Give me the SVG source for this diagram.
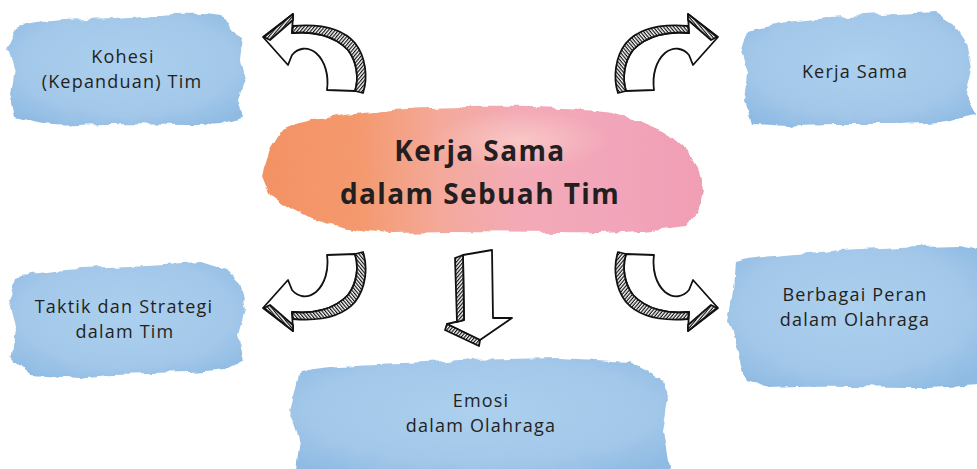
<svg xmlns="http://www.w3.org/2000/svg" xmlns:xlink="http://www.w3.org/1999/xlink" width="977" height="469" viewBox="0 0 977 469">
<style>
.lbl{font-family:"Open Sans","Noto Sans","Liberation Sans",sans-serif;font-size:18px;fill:#231f20;text-anchor:middle;letter-spacing:1.2px}
.title{font-family:"Open Sans","Noto Sans","Liberation Sans",sans-serif;font-size:28px;font-weight:bold;fill:#231f20;text-anchor:middle;letter-spacing:1.4px}
.blue{fill:url(#blueG);filter:url(#rough)}
.ol{stroke:#111;stroke-width:1.8;stroke-linejoin:round;stroke-linecap:round}
.face{fill:#fff}
.hat{fill:url(#hatch)}
</style>
<defs>
<radialGradient id="blueG" cx="50%" cy="45%" r="65%">
<stop offset="0" stop-color="#acd0ee"/>
<stop offset="0.7" stop-color="#a2c7e9"/>
<stop offset="1" stop-color="#8fbbe3"/>
</radialGradient>
<linearGradient id="warmG" x1="0" y1="0" x2="1" y2="0">
<stop offset="0" stop-color="#f39264"/>
<stop offset="0.22" stop-color="#f4996e"/>
<stop offset="0.4" stop-color="#f4a99a"/>
<stop offset="0.58" stop-color="#f3aab6"/>
<stop offset="0.8" stop-color="#f2a5ba"/>
<stop offset="1" stop-color="#f09eb4"/>
</linearGradient>
<radialGradient id="glow" cx="50%" cy="50%" r="50%">
<stop offset="0" stop-color="#fbd3cc" stop-opacity="0.7"/>
<stop offset="1" stop-color="#fbd3cc" stop-opacity="0"/>
</radialGradient>
<filter id="rough" x="-5%" y="-10%" width="110%" height="120%">
<feTurbulence type="fractalNoise" baseFrequency="0.05" numOctaves="3" seed="3"/>
<feDisplacementMap in="SourceGraphic" scale="8" xChannelSelector="R" yChannelSelector="G"/>
</filter>
<pattern id="hatch" width="2.6" height="2.6" patternUnits="userSpaceOnUse" patternTransform="rotate(40)">
<rect width="2.6" height="2.6" fill="#fff"/>
<line x1="0.6" y1="0" x2="0.6" y2="2.6" stroke="#111" stroke-width="1.2"/>
</pattern>
<g id="curl">
<path class="face ol" d="M263,37 L293,14 L292,33 C312,31 334,35 348,50 C357,62 359,78 355,91 L327,90 C329,75 325,61 316,53 C307,46 298,48 292,55 L288,65 Z"/>
<path class="hat ol" d="M292,33 C312,31 334,35 348,50 C357,62 359,78 355,91 L363,93 C368,78 366,57 355,43 C341,27 316,24 293,26 Z"/>
<path class="hat ol" d="M264,37 L293,14 L293,20 L270,40 Z"/>
</g>
</defs>

<g id="node-kohesi">
<path class="blue" d="M18,28 C40,18 90,20 130,17 C170,14 200,12 222,16 L230,28 L243,38 L240,60 L245,80 L238,100 L243,118 L220,124 C180,127 120,122 80,125 C50,127 30,122 15,118 L10,95 L14,70 L8,50 Z"/>
<text class="lbl" x="123" y="63">Kohesi</text>
<text class="lbl" x="122" y="88">(Kepanduan) Tim</text>
</g>

<g id="node-kerjasama">
<path class="blue" d="M748,30 C780,20 830,18 880,15 L935,12 L955,25 L968,45 L972,70 L966,95 L977,115 L940,122 C890,126 830,122 790,126 L752,124 L745,100 L748,75 L742,50 Z"/>
<text class="lbl" x="855" y="78">Kerja  Sama</text>
</g>

<g id="node-taktik">
<path class="blue" d="M15,278 C40,268 90,268 130,266 L200,262 L225,270 L240,285 L245,310 L238,335 L244,360 L225,370 C180,376 120,372 80,378 L30,375 L12,360 L16,330 L8,300 Z"/>
<text class="lbl" x="124" y="313">Taktik dan Strategi</text>
<text class="lbl" x="125" y="338">dalam Tim</text>
</g>

<g id="node-peran">
<path class="blue" d="M735,262 C760,255 800,255 840,250 L920,246 L960,245 L980,250 L980,385 L930,388 C880,388 820,385 770,388 L745,380 L737,350 L728,320 L733,290 Z"/>
<text class="lbl" x="855" y="301">Berbagai Peran</text>
<text class="lbl" x="855" y="326">dalam Olahraga</text>
</g>

<g id="node-emosi">
<path class="blue" d="M300,372 C340,362 400,365 460,360 L560,358 L630,362 L660,378 L668,400 L663,430 L670,475 L295,475 L300,440 L290,410 Z"/>
<text class="lbl" x="481" y="407">Emosi</text>
<text class="lbl" x="481" y="432">dalam Olahraga</text>
</g>

<g id="node-center">
<path fill="url(#warmG)" filter="url(#rough)" d="M262,175 L270,150 L282,130 C300,120 340,115 393,110 C450,106 560,105 612,112 L645,124 L670,135 L688,150 L700,170 L704,190 L700,210 L688,226 C640,232 600,234 560,233 L450,232 L393,233 C360,232 330,225 310,218 L285,205 L270,195 Z"/>
<ellipse cx="520" cy="140" rx="90" ry="30" fill="url(#glow)"/>
<text class="title" x="480" y="161">Kerja Sama</text>
<text class="title" x="480" y="204">dalam Sebuah Tim</text>
</g>

<g id="connectors">
<use xlink:href="#curl"/>
<use xlink:href="#curl" transform="translate(981,0) scale(-1,1)"/>
<use xlink:href="#curl" transform="translate(0,345) scale(1,-1)"/>
<use xlink:href="#curl" transform="translate(981,345) scale(-1,-1)"/>
<g id="down-arrow">
<path class="face ol" d="M463,255 L492,250 L493,318 L512,318 L480,340 L447,324 L464,320 Z"/>
<path class="hat ol" d="M455,258 L463,255 L464,320 L457,322 Z"/>
<path class="hat ol" d="M447,324 L480,340 L479,346 L445,330 Z"/>
</g>
</g>
</svg>
